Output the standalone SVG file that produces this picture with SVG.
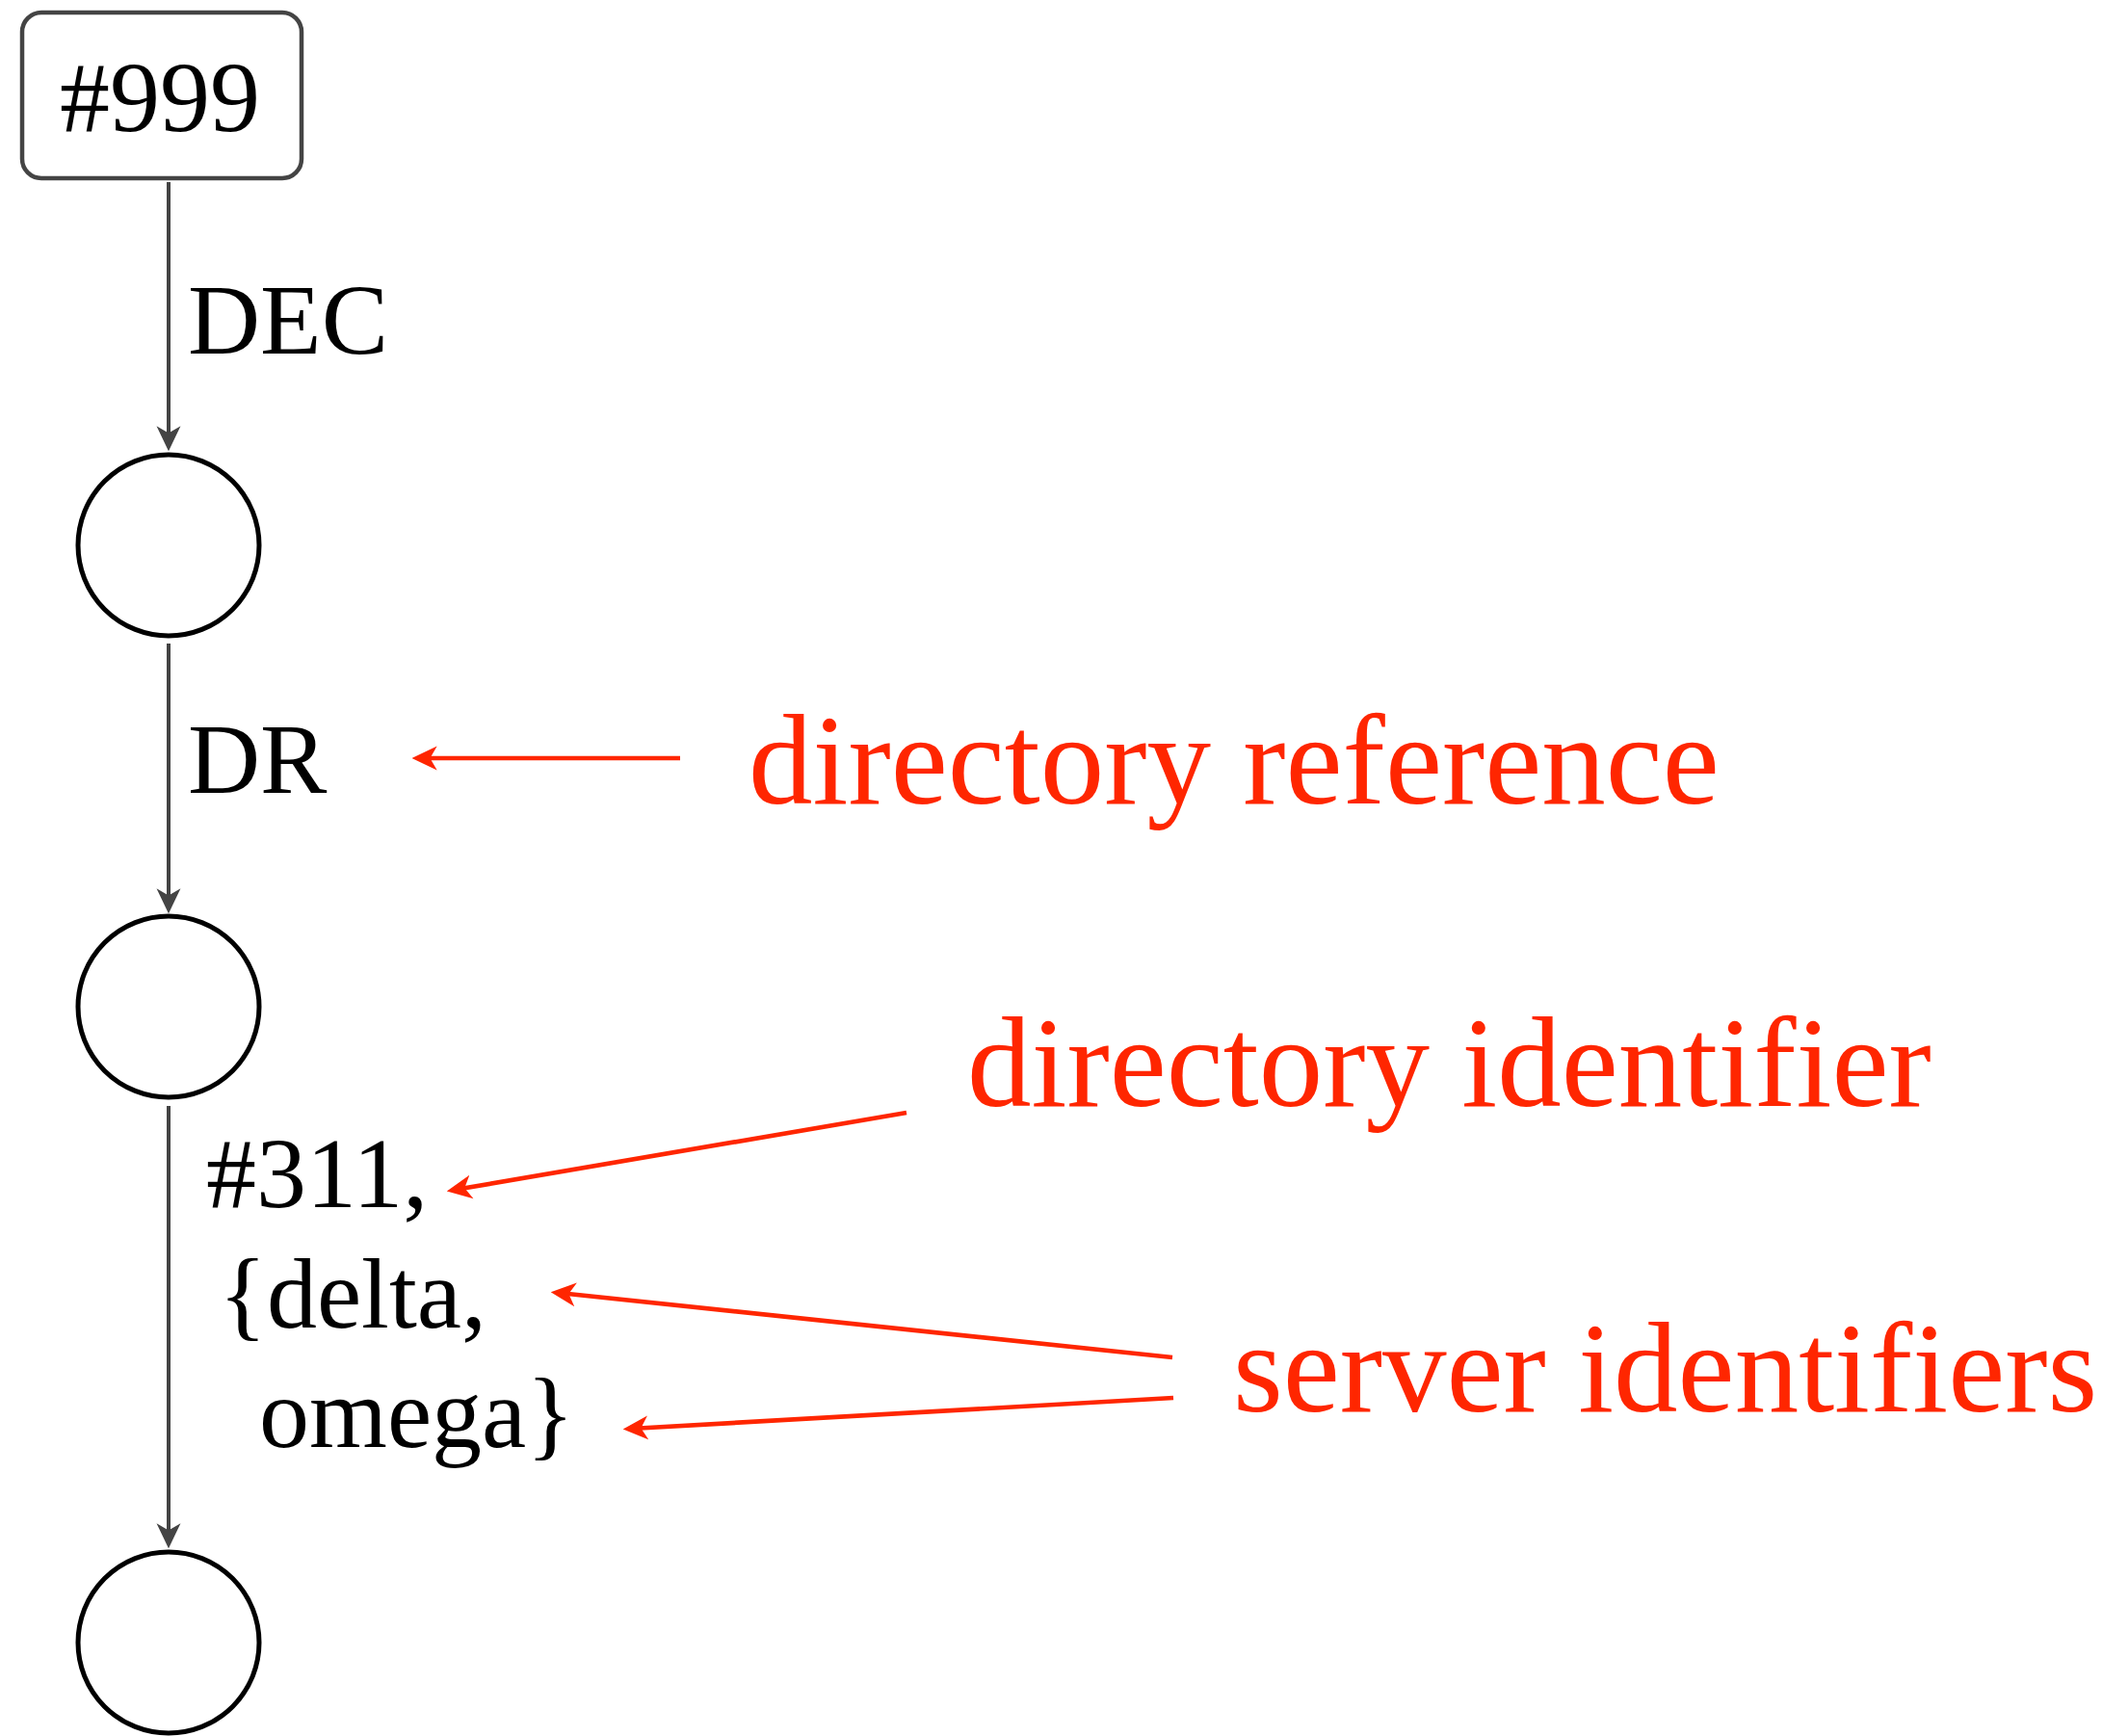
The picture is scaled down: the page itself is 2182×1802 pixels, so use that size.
<svg xmlns="http://www.w3.org/2000/svg" width="2182" height="1802" viewBox="0 0 2182 1802">
<style>
.lbl{font-family:"Liberation Serif","Times New Roman",serif;font-size:104px;fill:#000}
.note{font-family:"Liberation Serif","Times New Roman",serif;font-size:133px;fill:#ff2600}
.node{fill:#fff;stroke:#000;stroke-width:5}
.conn{fill:none;stroke:#444;stroke-width:4}
.ann{fill:none;stroke:#ff2600;stroke-width:4.7}
</style>
<defs>
<marker id="ag" markerUnits="userSpaceOnUse" markerWidth="26" markerHeight="26" viewBox="0 0 25 24" refX="17" refY="12" orient="auto">
<path d="M25,12 L0,0 L7,12 L0,24 Z" fill="#444"/>
</marker>
<marker id="ar" markerUnits="userSpaceOnUse" markerWidth="26" markerHeight="26" viewBox="0 0 25 24" refX="17" refY="12" orient="auto">
<path d="M25,12 L0,0 L7,12 L0,24 Z" fill="#ff2600"/>
</marker>
</defs>
<rect width="2182" height="1802" fill="#fff"/>
<g id="connectors">
<line class="conn" x1="175" y1="189" x2="175" y2="460" marker-end="url(#ag)"/>
<line class="conn" x1="175" y1="668" x2="175" y2="940" marker-end="url(#ag)"/>
<line class="conn" x1="175" y1="1148" x2="175" y2="1599" marker-end="url(#ag)"/>
<text class="lbl" x="195" y="367">DEC</text>
<text class="lbl" x="195" y="823">DR</text>
<text class="lbl" x="214" y="1253">#311,</text>
<text class="lbl" x="227" y="1378">{delta,</text>
<text class="lbl" x="269" y="1502">omega}</text>
</g>
<g id="node-999">
<rect x="23" y="13" width="290" height="172" rx="20" fill="#fff" stroke="#444" stroke-width="4.5"/>
<text class="lbl" x="166" y="136" text-anchor="middle">#999</text>
</g>
<g id="node-a"><circle class="node" cx="175" cy="566" r="94"/></g>
<g id="node-b"><circle class="node" cx="175" cy="1045" r="94"/></g>
<g id="node-c"><circle class="node" cx="175" cy="1705" r="94"/></g>
<g id="annotations">
<line class="ann" x1="706" y1="787" x2="436" y2="787" marker-end="url(#ar)"/>
<line class="ann" x1="941" y1="1155" x2="472" y2="1235" marker-end="url(#ar)"/>
<line class="ann" x1="1217" y1="1409" x2="580" y2="1342" marker-end="url(#ar)"/>
<line class="ann" x1="1218" y1="1451" x2="655" y2="1483" marker-end="url(#ar)"/>
<text class="note" x="777" y="834">directory reference</text>
<text class="note" x="1004" y="1148">directory identifier</text>
<text class="note" x="1280" y="1465">server identifiers</text>
</g>
</svg>
